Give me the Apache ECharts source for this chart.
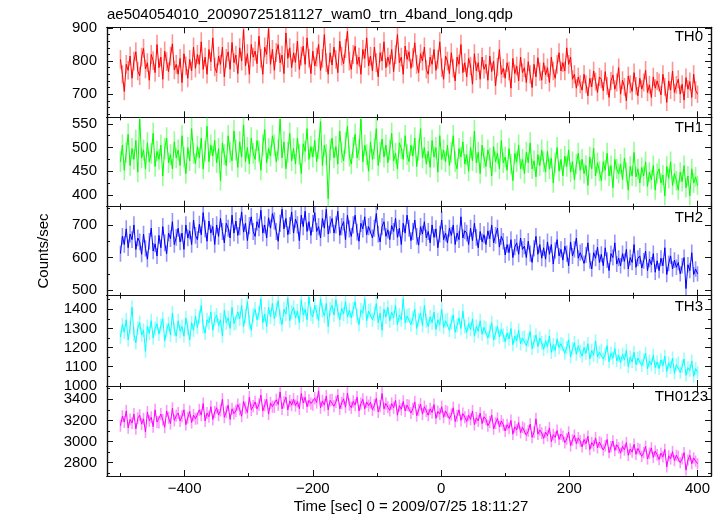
<!DOCTYPE html>
<html><head><meta charset="utf-8">
<script src="https://cdn.jsdelivr.net/npm/echarts@6/dist/echarts.min.js"></script>
<style>html,body{margin:0;padding:0;background:#fff}#c{width:723px;height:516px}</style>
</head><body><div id="c"></div>
<script>
// ---- data (time bins start at T_START, step T_STEP seconds) ----
const T_START = -500, T_STEP = 3, BIN_SEC = 1;
const title = 'ae504054010_20090725181127_wam0_trn_4band_long.qdp';
const xName = 'Time [sec] 0 = 2009/07/25 18:11:27';
const yName = 'Counts/sec';
const panelNames = ['TH0','TH1','TH2','TH3','TH0123'];

const th0 = [
805,760,708,790,772,815,748,800,828,770,
755,812,838,776,795,742,820,801,765,850,
780,812,745,830,798,768,815,852,773,790,
760,808,735,822,786,748,805,770,842,778,
820,790,858,775,812,760,835,798,870,782,
765,815,790,842,752,808,828,775,856,795,
818,762,840,800,895,785,822,760,850,812,
830,792,875,808,760,842,820,898,790,835,
772,826,850,795,818,762,885,808,840,780,
825,796,860,775,815,845,790,870,808,762,
830,785,812,850,772,808,880,795,760,825,
788,842,805,765,860,815,792,838,890,800,
775,820,845,790,812,760,835,808,870,785,
815,770,842,795,752,825,800,858,780,812,
790,835,768,820,880,795,812,760,845,805,
828,778,810,855,790,765,822,800,842,775,
760,812,790,835,772,805,858,780,745,815,
800,762,825,778,740,812,790,850,765,795,
752,808,785,730,822,770,795,745,812,775,
790,742,815,768,800,725,782,835,760,778,
748,795,770,718,808,762,785,740,812,765,
780,735,798,760,720,790,752,810,768,742,
795,758,780,735,812,770,748,790,825,770,
795,770,840,790,812,745,760,718,752,730,
712,760,730,695,748,722,770,738,705,752,
745,710,768,725,690,740,758,715,735,780,
700,742,722,680,755,730,708,765,725,695,
748,715,735,772,705,728,690,752,718,740,
735,698,760,722,675,740,712,770,705,728,
745,700,730,682,750,715,738,690,760,712,
700];

const th1 = [
470,505,452,490,528,462,498,475,515,448,
560,478,495,455,510,470,488,530,460,492,
475,505,440,498,520,468,485,455,512,478,
495,462,525,480,445,500,472,540,488,466,
502,478,520,455,492,545,470,505,482,515,
468,498,430,510,485,462,525,490,472,535,
495,458,512,480,548,470,500,465,520,488,
475,515,492,452,505,538,468,498,482,525,
505,470,495,560,478,512,455,490,530,472,
498,465,520,485,445,508,492,540,475,502,
480,515,470,498,555,462,505,485,392,495,
520,478,502,465,535,490,472,510,545,482,
465,500,528,478,495,560,470,505,485,450,
512,475,498,540,462,490,518,480,505,468,
495,530,472,488,455,510,498,475,525,485,
470,505,482,520,460,495,540,478,500,465,
492,458,515,480,500,448,525,475,495,470,
505,462,490,525,470,455,498,480,512,465,
485,450,500,472,535,468,490,445,505,478,
460,495,478,440,502,470,488,455,515,468,
480,452,498,465,430,488,470,505,455,475,
445,490,468,510,455,472,438,485,462,495,
470,448,492,455,478,425,468,500,450,475,
440,482,460,495,448,470,432,465,488,452,
475,445,462,420,480,455,498,440,468,450,
430,470,452,488,440,462,415,475,455,445,
465,432,478,448,410,460,440,490,438,455,
425,458,440,470,418,448,432,462,410,445,
455,425,442,398,460,435,470,420,445,430,
410,448,428,462,415,440,398,455,425,438,
420];

const th2 = [
612,665,640,688,630,672,655,700,625,660,
648,610,672,628,595,650,690,620,642,605,
668,630,695,645,612,675,658,710,640,662,
690,648,675,625,700,660,682,640,715,668,
655,702,670,738,688,650,712,675,695,640,
700,665,720,680,645,705,690,660,730,675,
712,668,695,740,678,705,652,698,725,680,
665,710,692,745,675,700,660,722,690,735,
712,680,650,705,748,688,720,670,698,740,
675,718,700,652,730,695,742,680,710,668,
705,738,680,695,660,720,690,748,672,700,
720,675,700,742,668,695,710,655,730,688,
665,700,730,678,650,705,688,725,670,695,
700,660,690,735,672,648,695,710,665,685,
655,698,680,720,662,690,640,705,675,730,
690,652,680,715,665,638,695,672,710,660,
680,645,700,662,688,630,672,715,655,675,
645,690,668,700,640,675,655,725,660,682,
675,640,690,652,705,662,630,680,648,670,
640,682,658,700,645,668,690,632,665,650,
608,640,615,655,600,632,645,610,660,625,
635,600,650,612,585,628,665,610,640,598,
630,595,648,610,640,580,622,655,605,625,
592,635,612,575,648,605,625,660,598,615,
620,582,608,645,590,565,615,598,632,585,
610,575,630,592,560,612,600,645,580,598,
575,612,588,625,565,600,585,640,570,598,
605,568,590,620,560,595,578,612,555,590,
560,598,575,630,548,582,605,565,592,570,
585,550,575,600,505,578,560,615,548,565,
550];

const th3 = [
1255,1320,1280,1345,1240,1305,1410,1270,1225,1300,
1330,1265,1290,1180,1310,1275,1340,1250,1300,1325,
1270,1315,1350,1235,1290,1325,1265,1380,1295,1260,
1340,1285,1310,1260,1355,1300,1240,1330,1290,1365,
1305,1360,1420,1310,1275,1345,1330,1385,1290,1350,
1370,1315,1345,1260,1395,1330,1355,1300,1410,1325,
1330,1385,1350,1420,1310,1365,1440,1335,1290,1370,
1400,1345,1380,1455,1330,1375,1310,1410,1360,1430,
1350,1395,1445,1360,1320,1400,1375,1460,1340,1385,
1410,1355,1390,1330,1450,1370,1400,1345,1465,1375,
1360,1420,1385,1340,1455,1395,1365,1430,1310,1400,
1420,1370,1450,1390,1345,1405,1375,1440,1360,1395,
1355,1400,1440,1365,1320,1395,1380,1455,1340,1390,
1395,1345,1375,1430,1330,1380,1290,1400,1360,1410,
1340,1385,1355,1420,1320,1370,1345,1455,1330,1365,
1370,1320,1355,1400,1300,1345,1380,1315,1420,1340,
1310,1360,1330,1385,1295,1345,1320,1400,1305,1340,
1345,1290,1330,1370,1280,1315,1355,1300,1390,1310,
1280,1325,1295,1350,1260,1310,1285,1340,1270,1305,
1300,1250,1285,1330,1240,1275,1310,1255,1295,1265,
1230,1275,1245,1300,1215,1260,1235,1290,1220,1250,
1255,1210,1240,1285,1195,1230,1265,1205,1250,1225,
1190,1235,1205,1260,1175,1215,1185,1245,1200,1220,
1215,1170,1200,1240,1150,1195,1225,1165,1210,1180,
1155,1200,1170,1220,1140,1185,1160,1235,1150,1175,
1185,1140,1165,1210,1125,1170,1145,1195,1130,1160,
1120,1165,1135,1185,1100,1150,1125,1175,1110,1145,
1150,1105,1135,1170,1090,1130,1110,1160,1095,1125,
1090,1135,1105,1155,1075,1120,1095,1145,1065,1110,
1120,1070,1100,1140,1055,1095,1080,1130,1050,1090,
1070];

const th0123 = [
3150,3240,3185,3290,3130,3210,3175,3260,3120,3220,
3250,3165,3215,3090,3280,3195,3230,3140,3300,3185,
3180,3260,3205,3135,3290,3225,3170,3315,3200,3245,
3270,3195,3240,3300,3160,3225,3285,3180,3250,3215,
3220,3300,3250,3360,3195,3270,3235,3330,3210,3280,
3320,3250,3295,3400,3230,3280,3345,3210,3310,3265,
3290,3350,3305,3240,3380,3320,3275,3420,3300,3335,
3375,3310,3350,3440,3290,3345,3400,3260,3365,3330,
3330,3395,3350,3470,3310,3370,3420,3300,3385,3345,
3400,3340,3380,3310,3455,3365,3420,3330,3390,3360,
3350,3410,3370,3480,3320,3385,3345,3430,3300,3390,
3395,3335,3375,3440,3310,3365,3405,3325,3460,3350,
3320,3380,3345,3420,3290,3360,3400,3310,3375,3340,
3370,3300,3345,3410,3280,3335,3455,3310,3360,3325,
3295,3360,3320,3390,3250,3340,3305,3380,3290,3345,
3340,3270,3310,3375,3245,3300,3355,3260,3330,3290,
3250,3310,3275,3350,3220,3285,3260,3330,3230,3290,
3280,3215,3255,3320,3190,3245,3300,3200,3265,3230,
3190,3250,3210,3290,3160,3225,3195,3270,3170,3235,
3210,3150,3185,3250,3120,3175,3220,3140,3195,3160,
3100,3160,3125,3200,3070,3140,3110,3180,3085,3135,
3125,3060,3100,3165,3040,3090,3215,3070,3110,3080,
3030,3090,3055,3130,3000,3065,3040,3105,3020,3070,
3050,2990,3025,3090,2960,3015,3060,2980,3035,3005,
2950,3020,2980,3050,2925,2990,2960,3035,2940,2995,
2985,2920,2960,3020,2895,2950,3005,2915,2970,2940,
2890,2955,2920,2990,2870,2930,2900,2975,2880,2935,
2925,2860,2895,2955,2835,2890,2940,2850,2910,2875,
2830,2890,2855,2925,2760,2865,2835,2905,2820,2870,
2860,2800,2835,2895,2730,2825,2870,2790,2845,2815,
2790];

// axis ranges and tick values
const xRange = [-521, 421];
const xMajor = [-400, -200, 0, 200, 400];
const xMinor = [-500, -300, -100, 100, 300];
const yRanges = [[630, 902], [375, 564], [483, 756], [999, 1471], [2674, 3526]];
const yMajor = [[700, 800, 900], [400, 450, 500, 550], [500, 600, 700], [1000, 1100, 1200, 1300, 1400], [2800, 3000, 3200, 3400]];
const yMinor = [[640, 660, 680, 720, 740, 760, 780, 820, 840, 860, 880], [425, 475, 525], [550, 650, 750], [1050, 1150, 1250, 1350, 1450], [2700, 2900, 3100, 3300, 3500]];

// ---- styling / layout ----
const seriesVals = [th0, th1, th2, th3, th0123];
const colors = ['#ff0000', '#00ff00', '#0000ff', '#00ffff', '#ff00ff'];
const errColors = ['rgba(255,0,0,0.42)', 'rgba(0,255,0,0.42)', 'rgba(0,0,255,0.42)', 'rgba(0,255,255,0.42)', 'rgba(255,0,255,0.42)'];
const FONT = "'Liberation Sans', Arial, Helvetica, sans-serif";
const tops = [27.3, 117.3, 206.7, 295.7, 386];
const bottomEdge = 476;
const LEFT = 107, RIGHT_EDGE = 711;
const labelPos = [[703, 37], [703, 128], [703, 218], [703, 307], [708, 397]];

const grids = [], xAxes = [], yAxes = [], series = [];
const lineCol = '#111';
const plain = v => (v < 0 ? '\u2212' + (-v) : String(v));
for (let i = 0; i < 5; i++) {
  const top = tops[i];
  const h = (i < 4 ? tops[i + 1] : bottomEdge) - top;
  grids.push({left: LEFT, width: RIGHT_EDGE - LEFT, top: top, height: h, containLabel: false});
  const mkX = (pos, vals, len, labels) => ({
    type: 'value', gridIndex: i, position: pos, min: xRange[0], max: xRange[1],
    axisLine: {show: true, onZero: false, lineStyle: {color: lineCol, width: 1.2}},
    axisTick: {show: true, inside: true, length: len, customValues: vals, lineStyle: {color: lineCol, width: 1}},
    axisLabel: {show: labels, customValues: xMajor, color: '#000', fontFamily: FONT, fontSize: 15, margin: 5, formatter: plain},
    splitLine: {show: false}
  });
  xAxes.push(mkX('bottom', xMajor, 6, i === 4));
  xAxes.push(mkX('bottom', xMinor, 3, false));
  xAxes.push(mkX('top', xMajor, 6, false));
  xAxes.push(mkX('top', xMinor, 3, false));
  const mkY = (pos, vals, len, labels) => ({
    type: 'value', gridIndex: i, position: pos, min: yRanges[i][0], max: yRanges[i][1],
    axisLine: {show: true, onZero: false, lineStyle: {color: lineCol, width: 1.2}},
    axisTick: {show: true, inside: true, length: len, customValues: vals, lineStyle: {color: lineCol, width: 1}},
    axisLabel: {show: labels, customValues: yMajor[i], color: '#000', fontFamily: FONT, fontSize: 15, margin: 10, formatter: plain},
    splitLine: {show: false}
  });
  yAxes.push(mkY('left', yMajor[i], 6, true));
  yAxes.push(mkY('left', yMinor[i], 3, false));
  yAxes.push(mkY('right', yMajor[i], 6, false));
  yAxes.push(mkY('right', yMinor[i], 3, false));

  const data = seriesVals[i].map((v, j) => [T_START + j * T_STEP, v]);
  const ec = errColors[i];
  series.push({
    type: 'custom', xAxisIndex: i * 4, yAxisIndex: i * 4, clip: true, silent: true, z: 2,
    data: data,
    renderItem: (params, api) => {
      const t = api.value(0), v = api.value(1);
      const e = Math.sqrt(v / BIN_SEC);
      const p1 = api.coord([t, v + e]), p2 = api.coord([t, v - e]);
      return {type: 'line', shape: {x1: p1[0], y1: p1[1], x2: p2[0], y2: p2[1]}, style: {stroke: ec, lineWidth: 1.6}};
    }
  });
  series.push({
    type: 'line', xAxisIndex: i * 4, yAxisIndex: i * 4, data: data, showSymbol: false, symbol: 'none',
    lineStyle: {color: colors[i], width: 1}, itemStyle: {color: colors[i]}, z: 3, clip: true, silent: true
  });
}

const graphics = [
  {type: 'text', x: 107, y: 15, style: {text: title, font: '15px ' + FONT, fill: '#000', align: 'left', verticalAlign: 'middle'}},
  {type: 'text', x: 411, y: 507, style: {text: xName, font: '15px ' + FONT, fill: '#000', align: 'center', verticalAlign: 'middle'}},
  {type: 'text', x: 44, y: 251, rotation: Math.PI / 2, style: {text: yName, font: '15px ' + FONT, fill: '#000', align: 'center', verticalAlign: 'middle'}}
];
panelNames.forEach((n, i) => graphics.push({type: 'text', x: labelPos[i][0], y: labelPos[i][1], z: 10,
  style: {text: n, font: '15px ' + FONT, fill: '#000', align: 'right', verticalAlign: 'middle'}}));

const chart = echarts.init(document.getElementById('c'), null, {renderer: 'canvas'});
chart.setOption({
  animation: false,
  backgroundColor: '#fff',
  grid: grids, xAxis: xAxes, yAxis: yAxes, series: series, graphic: graphics
});
</script></body></html>
